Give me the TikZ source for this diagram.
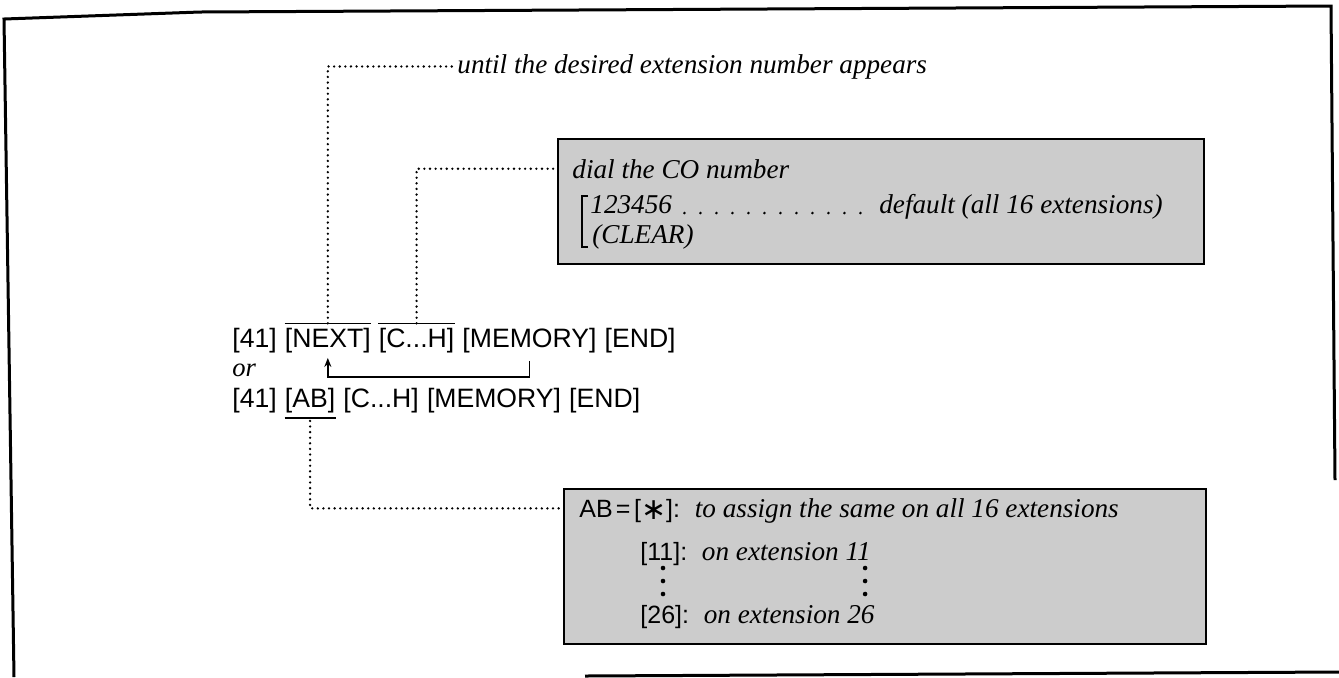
\documentclass[tikz,border=0pt]{standalone}
\usepackage{fontspec}
\setmainfont{Liberation Serif}
\setsansfont{Liberation Sans}
\newfontfamily\symfont{DejaVu Sans}
\usetikzlibrary{arrows.meta,calc}
\begin{document}
\begin{tikzpicture}[x=0.5pt,y=-0.5pt,
  key/.style={font=\sffamily\fontsize{13.3}{15}\selectfont, inner sep=0pt, anchor=base west},
  boxkey/.style={font=\sffamily\fontsize{12.5}{14}\selectfont, inner sep=0pt, anchor=base west},
  note/.style={font=\itshape\fontsize{13.6}{15}\selectfont, inner sep=0pt, anchor=base west},
  dotline/.style={line width=1.3pt, dash pattern=on 0pt off 2.8pt, line cap=round},
  leader/.style={line width=1.4pt, dash pattern=on 0pt off 8pt, line cap=round},
  gbox/.style={draw, line width=1pt, fill=black!20, inner sep=0pt, anchor=north west},
  frameline/.style={line width=1.5pt},
  solidline/.style={line width=0.8pt}]
\useasboundingbox (0,0) rectangle (1339,677);
% outer frame
\draw[frameline] (14,677) -- (4,19) -- (200,12) -- (1331,6) -- (1335,480);
\draw[frameline] (585,676) -- (1339,672);
% grey boxes
\node[gbox, minimum width=323pt, minimum height=62.5pt] (cobox) at (557,138) {};
\node[gbox, minimum width=321pt, minimum height=77.5pt] (abbox) at (563,488) {};
% key sequence, first line
\node[key] (a41) at (232,347) {[41]};
\node[key] (next) at ([xshift=3.7pt]a41.base east) {[NEXT]};
\node[key] (ch) at ([xshift=3.7pt]next.base east) {[C...H]};
\node[key] (mem) at ([xshift=3.7pt]ch.base east) {[MEMORY]};
\node[key] (end) at ([xshift=3.7pt]mem.base east) {[END]};
\draw[solidline] ([yshift=2pt]next.north west) -- ([yshift=2pt]next.north east);
\draw[solidline] ([yshift=2pt]ch.north west) -- ([yshift=2pt]ch.north east);
% or
\node[note, font=\itshape\fontsize{13.3}{15}\selectfont] (or) at (232,376) {or};
% second line
\node[key] (b41) at (232,407) {[41]};
\node[key] (ab) at ([xshift=3.7pt]b41.base east) {[AB]};
\node[key] (ch2) at ([xshift=3.7pt]ab.base east) {[C...H]};
\node[key] (mem2) at ([xshift=3.7pt]ch2.base east) {[MEMORY]};
\node[key] (end2) at ([xshift=3.7pt]mem2.base east) {[END]};
\draw[solidline] ([yshift=-2.5pt]ab.south west) -- ([yshift=-2.5pt]ab.south east);
% loop arrow
\coordinate (loopy) at (0,377);
\draw[solidline, -{Stealth[length=4.5pt,width=3.5pt]}] ([yshift=-4pt]mem.south) -- (mem.south |- loopy) -| ([yshift=-2.5pt]next.south);
% top note
\node[note] (until) at (457,73) {until the desired extension number appears};
\draw[dotline] ([yshift=2pt]next.north) |- ([xshift=-2pt]until.west);
% CO box text
\node[note] (dial) at (572,178) {dial the CO number};
\node[note] (num) at (590,213) {123456};
\node[note] (clr) at (592,243) {(CLEAR)};
\node[note, anchor=base east] (dflt) at (1163,213) {default (all 16 extensions)};
\draw[leader] ([xshift=6pt]num.base east) -- ([xshift=-4pt]dflt.base west);
\draw[line width=1.2pt] (588,196) -- (582,196) -- (582,247) -- (588,247);
\draw[dotline] ([yshift=2pt]ch.north) |- (cobox.west |- dial.center);
% AB box text
\node[boxkey] (abl) at (579,517) {AB\kern1.5pt=\kern1.5pt};
\node[boxkey] (star) at (abl.base east) {[\raisebox{-1pt}{\symfont\fontsize{15}{15}\selectfont ∗}]:};
\node[note] (t1) at ([xshift=7pt]star.base east) {to assign the same on all 16 extensions};
\node[boxkey] (k11) at (640,560) {[11]:};
\node[note] (t2) at ([xshift=7pt]k11.base east) {on extension 11};
\node[boxkey] (k26) at (640,623) {[26]:};
\node[note] (t3) at ([xshift=7pt]k26.base east) {on extension 26};
\foreach \yy in {568,581,594}{
  \fill (663,\yy) circle (2.3);
  \fill ([xshift=-3pt]t2.east |- 0,\yy) circle (2.3);
}
\draw[dotline] ([yshift=-4pt]ab.south) |- (abbox.west |- abl.center);
\end{tikzpicture}
\end{document}
